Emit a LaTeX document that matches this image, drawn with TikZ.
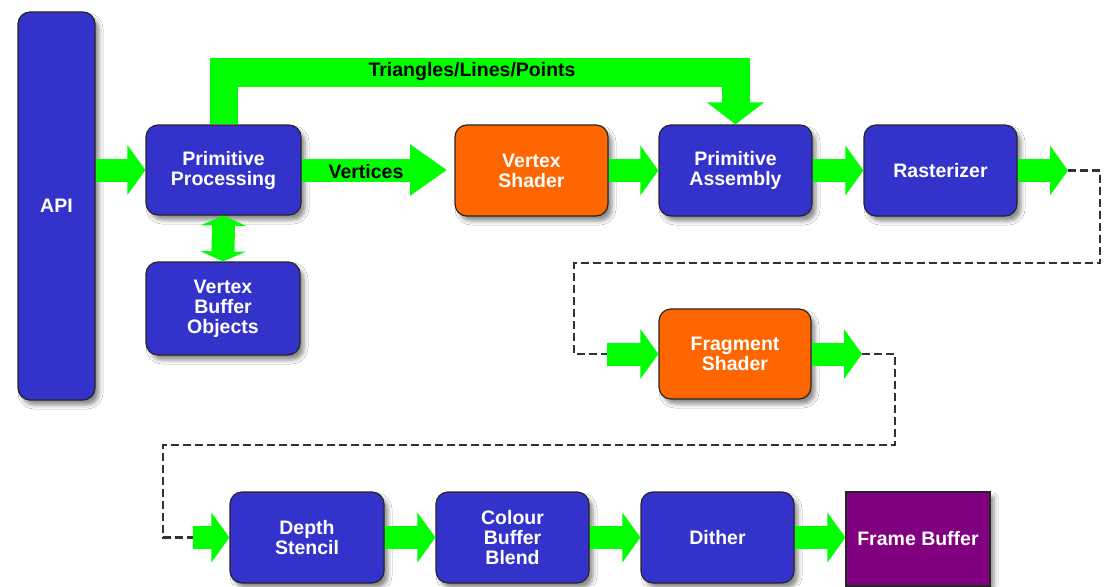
\documentclass[tikz,border=0pt]{standalone}
\usepackage{fontspec}
\setmainfont{Liberation Sans}
\usetikzlibrary{arrows.meta,shadows.blur}
\definecolor{gg}{RGB}{0,255,0}
\definecolor{bbox}{RGB}{51,51,204}
\definecolor{obox}{RGB}{255,102,0}
\definecolor{pbox}{RGB}{128,0,128}
\definecolor{dline}{RGB}{50,50,50}
\tikzset{
  stage/.style={rectangle, rounded corners=12pt, draw=black!85, line width=1.2pt,
    text=white, align=center, inner sep=0pt,
    font=\fontsize{19.5pt}{20pt}\selectfont\bfseries,
    blur shadow={shadow xshift=4pt, shadow yshift=-5pt, shadow blur radius=4pt, shadow opacity=45}},
  bluebox/.style={stage, fill=bbox},
  orangebox/.style={stage, fill=obox},
  lab/.style={text=black, font=\fontsize{19.5pt}{20pt}\selectfont\bfseries, inner sep=0pt},
  garrow/.style={draw=gg, line width=23pt, -{Triangle[width=49pt,length=18pt]}},
  dpath/.style={draw=dline, line width=2.2pt, dash pattern=on 8pt off 4pt}
}
\begin{document}
\begin{tikzpicture}[x=1pt,y=-1pt]
\useasboundingbox[fill=white] (0,0) rectangle (1110,586);
% nodes
\node[bluebox, minimum width=77pt, minimum height=388pt] (api) at (56.5,206) {API};
\node[bluebox, minimum width=155pt, minimum height=90pt] (pp) at (223.5,170) {Primitive\\Processing};
\node[bluebox, minimum width=154pt, minimum height=93pt] (vbo) at (223,308.5) {Vertex\\Buffer\\Objects};
\node[orangebox, minimum width=153pt, minimum height=91pt] (vs) at (531.5,170.5) {Vertex\\Shader};
\node[bluebox, minimum width=153pt, minimum height=91pt] (pa) at (735.5,170.5) {Primitive\\Assembly};
\node[bluebox, minimum width=153pt, minimum height=91pt] (ras) at (940.5,170.5) {Rasterizer};
\node[orangebox, minimum width=152pt, minimum height=90pt] (fs) at (735,354) {Fragment\\Shader};
\node[bluebox, minimum width=154pt, minimum height=91pt] (ds) at (307,537.5) {Depth\\Stencil};
\node[bluebox, minimum width=153pt, minimum height=91pt] (cbb) at (512.5,537.5) {Colour\\Buffer\\Blend};
\node[bluebox, minimum width=153pt, minimum height=91pt] (dit) at (717.5,537.5) {Dither};
\node[stage, rounded corners=0pt, fill=pbox, minimum width=144pt, minimum height=94pt] (fb) at (918,539) {Frame Buffer};
% coordinates
\coordinate (tl) at (223.5,72.5);
\coordinate (r1) at (1068,170.5);
\coordinate (r2) at (1100,170.5);
\coordinate (r3) at (1100,263);
\coordinate (r4) at (574,263);
\coordinate (r5) at (574,354);
\coordinate (f0) at (607,354);
\coordinate (f1) at (862,354);
\coordinate (f2) at (895,354);
\coordinate (f3) at (895,445);
\coordinate (f4) at (163,445);
\coordinate (f5) at (163,537.5);
\coordinate (d0) at (193,537.5);
\coordinate (vend) at (447,170);
% dashed paths
\draw[dpath] (r1) -- (r2) -- (r3) -- (r4) -- (r5) -- (f0);
\draw[dpath] (f1) -- (f2) -- (f3) -- (f4) -- (f5) -- (d0);
% green connectors
\draw[draw=gg, line width=28pt, line join=miter, -{Triangle[width=56pt,length=22pt]}] (pp.north) -- (tl) -| (pa.north);
\draw[garrow] (api.east |- pp.west) -- (pp.west);
\draw[draw=gg, line width=23pt, -{Triangle[width=49pt,length=37pt]}] (pp.east) -- (vend);
\draw[garrow] (vs.east) -- (pa.west);
\draw[garrow] (pa.east) -- (ras.west);
\draw[garrow] (ras.east) -- (r1);
\draw[garrow] (f0) -- (fs.west);
\draw[garrow] (fs.east) -- (f1);
\draw[garrow] (d0) -- (ds.west);
\draw[garrow] (ds.east) -- (cbb.west);
\draw[garrow] (cbb.east) -- (dit.west);
\draw[garrow] (dit.east) -- (fb.west |- dit.east);
\draw[draw=gg, line width=23pt, {Triangle[width=45pt,length=10pt]}-{Triangle[width=45pt,length=10pt]}] (pp.south) -- (vbo.north);
% labels
\node[lab] (tlab) at (472,72) {Triangles/Lines/Points};
\node[lab] (vlab) at (366,172) {Vertices};
\end{tikzpicture}
\end{document}
